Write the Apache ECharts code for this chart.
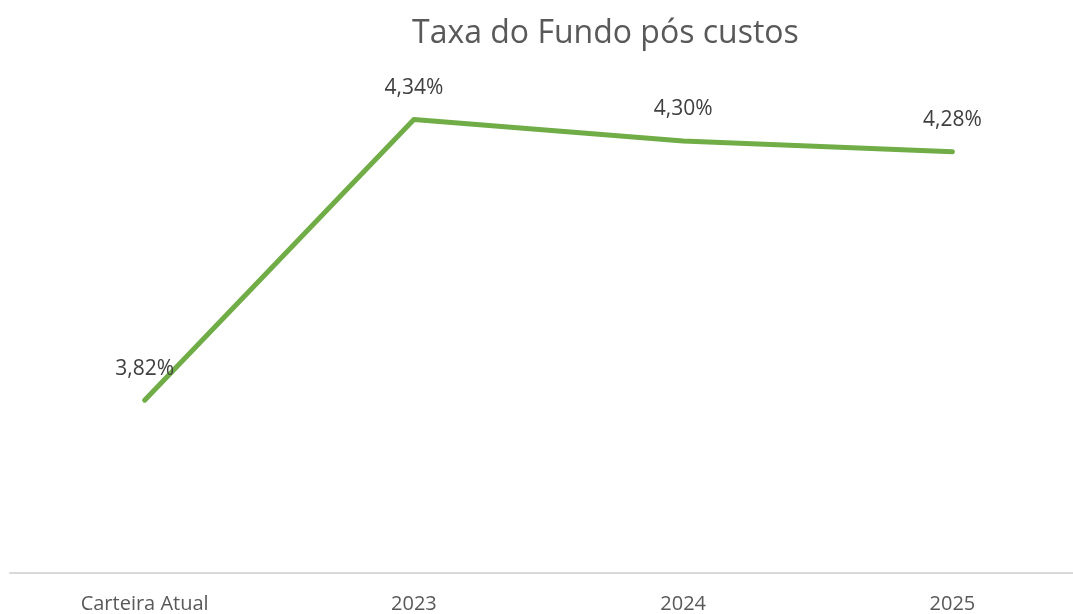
<!DOCTYPE html>
<html>
<head>
<meta charset="utf-8">
<script src="https://cdn.jsdelivr.net/npm/echarts@6/dist/echarts.min.js"></script>
<style>
  html, body { margin: 0; padding: 0; background: #fff; }
  #chart { width: 1073px; height: 614px; }
</style>
</head>
<body>
<div id="chart"></div>
<script>
// dados do gráfico
var categories = ['Carteira Atual', '2023', '2024', '2025'];
var taxa = [3.82, 4.34, 4.30, 4.28];

var myChart = echarts.init(document.getElementById('chart'));
myChart.setOption({
  animation: false,
  textStyle: { fontFamily: 'Open Sans' },
  title: {
    text: 'Taxa do Fundo pós custos',
    left: 407,
    top: 13,
    textStyle: { fontFamily: 'Open Sans', fontSize: 32, fontWeight: 'normal', color: '#595959' }
  },
  grid: { left: 10, right: -14, top: 87, bottom: 41, outerBoundsMode: 'none', containLabel: false },
  xAxis: {
    type: 'category',
    data: categories,
    boundaryGap: true,
    axisLine: { lineStyle: { color: '#d9d9d9', width: 2 } },
    axisTick: { show: false },
    axisLabel: { fontSize: 20, color: '#595959', margin: 21 }
  },
  yAxis: {
    type: 'value',
    min: 3.5,
    max: 4.4,
    show: false,
    splitLine: { show: false }
  },
  series: [{
    type: 'line',
    data: taxa,
    symbol: 'circle',
    symbolSize: 0,
    showSymbol: true,
    lineStyle: { color: '#70AD47', width: 5, cap: 'round', join: 'round' },
    itemStyle: { color: '#70AD47' },
    label: {
      show: true,
      position: 'top',
      distance: 21,
      fontSize: 21,
      color: '#404040',
      formatter: function (p) { return p.value.toFixed(2).replace('.', ',') + '%'; }
    }
  }]
});
</script>
</body>
</html>
